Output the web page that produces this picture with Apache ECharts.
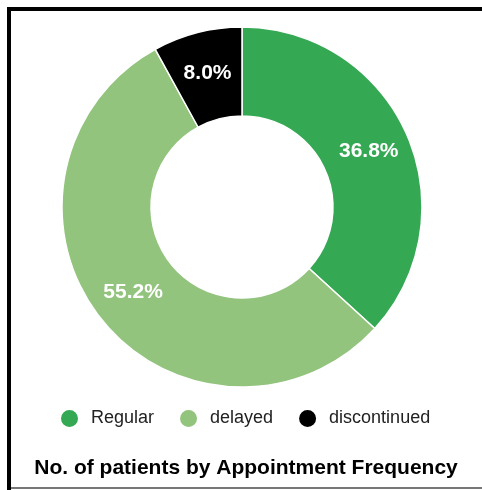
<!DOCTYPE html>
<html>
<head>
<meta charset="utf-8">
<script src="https://cdn.jsdelivr.net/npm/echarts@6/dist/echarts.min.js"></script>
<style>
html,body{margin:0;padding:0;background:#fff;}
#c{width:482px;height:490px;}
</style>
</head>
<body>
<div id="c"></div>
<script>
var categories = ['Regular', 'delayed', 'discontinued'];
var values = [36.8, 55.2, 8.0];
var colors = ['#34A853', '#93C47D', '#000000'];

var chart = echarts.init(document.getElementById('c'), null, {renderer: 'canvas'});
chart.setOption({
  animation: false,
  backgroundColor: '#fff',
  graphic: [
    {type: 'rect', shape: {x: 7, y: 7, width: 4, height: 483}, style: {fill: '#000'}},
    {type: 'rect', shape: {x: 7, y: 7, width: 475, height: 4}, style: {fill: '#000'}},
    {type: 'rect', shape: {x: 11, y: 487, width: 471, height: 2}, style: {fill: '#777'}}
  ],
  title: {
    text: 'No. of patients by Appointment Frequency',
    left: 241, top: 453, textAlign: 'center',
    textStyle: {fontFamily: 'Liberation Sans, Arial', fontWeight: 'bold', fontSize: 21, color: '#000'}
  },
  legend: {
    data: categories,
    left: 54, top: 403,
    icon: 'circle', itemWidth: 19, itemHeight: 19, itemGap: 24,
    textStyle: {fontFamily: 'Liberation Sans, Arial', fontSize: 18, color: '#222', padding: [0, 0, 0, 7]}
  },
  series: [{
    type: 'pie',
    center: [242, 207],
    radius: [91, 180],
    startAngle: 90,
    clockwise: true,
    itemStyle: {borderColor: '#fff', borderWidth: 1.5},
    label: {
      show: true, position: 'inside',
      formatter: function (p) { return p.value.toFixed(1) + '%'; },
      color: '#fff', fontFamily: 'Liberation Sans, Arial', fontWeight: 'bold', fontSize: 21
    },
    labelLine: {show: false},
    data: categories.map(function (c, i) {
      return {name: c, value: values[i], itemStyle: {color: colors[i]}};
    })
  }]
});
</script>
</body>
</html>
